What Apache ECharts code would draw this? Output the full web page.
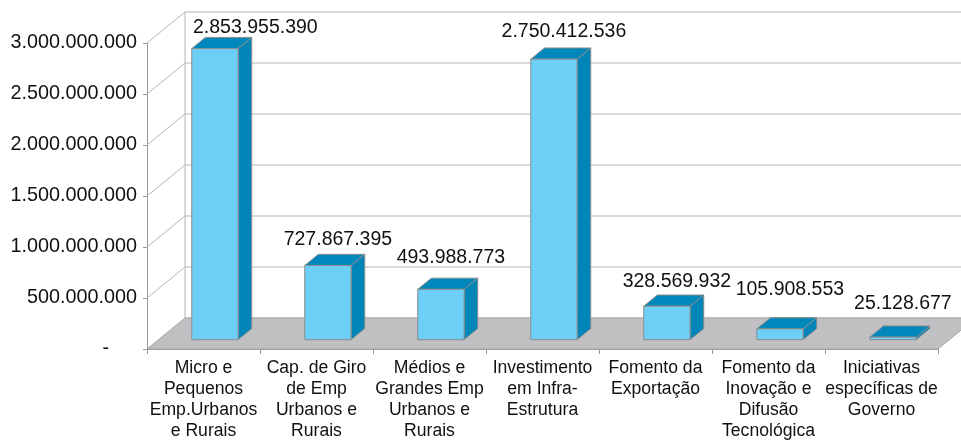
<!DOCTYPE html>
<html>
<head>
<meta charset="utf-8">
<script src="https://cdn.jsdelivr.net/npm/echarts@6/dist/echarts.min.js"></script>
<style>
html, body { margin: 0; padding: 0; background: #fff; }
#chart { width: 961px; height: 440px; }
</style>
</head>
<body>
<div id="chart"></div>
<script>
// dados do grafico
var categories = [
    'Micro e\nPequenos\nEmp.Urbanos\ne Rurais',
    'Cap. de Giro\nde Emp\nUrbanos e\nRurais',
    'Médios e\nGrandes Emp\nUrbanos e\nRurais',
    'Investimento\nem Infra-\nEstrutura',
    'Fomento da\nExportação',
    'Fomento da\nInovação e\nDifusão\nTecnológica',
    'Iniciativas\nespecíficas de\nGoverno'
];
var values = [2853955390, 727867395, 493988773, 2750412536, 328569932, 105908553, 25128677];
var yMin = 0;
var yMax = 3000000000;
var yStep = 500000000;

// estilo / perspectiva 3D
var DX = 38, DY = 31;          // deslocamento da profundidade total
var BAR_W = 0.41;              // largura da barra (fracao da categoria)
var D0 = 0.3, D1 = 0.66;       // profundidade da frente e do fundo da barra
var FONT = '"Liberation Sans", Arial, sans-serif';
var LABEL_SIZE = 19.5;
var labelNudge = [5, 0, -6, -1, 1.5, -13, -7];

function fmt(v) {
    return String(v).replace(/\B(?=(\d{3})+(?!\d))/g, '.');
}

var measureCtx = document.createElement('canvas').getContext('2d');
measureCtx.font = LABEL_SIZE + 'px ' + FONT;

function proj(api, c, v, d) {
    var p0 = api.coord([0, v]);
    var bw = api.size([1, 0])[0];
    return [p0[0] - bw / 2 + c * bw + d * DX, p0[1] - d * DY];
}

var ticks = [];
for (var t = yMin; t <= yMax; t += yStep) ticks.push(t);

var myChart = echarts.init(document.getElementById('chart'));
var option = {
    backgroundColor: '#fff',
    animation: false,
    grid: { left: 147, right: 23, top: 43, bottom: 91, outerBoundsMode: 'none' },
    xAxis: {
        type: 'category',
        data: categories,
        axisLine: { lineStyle: { color: '#9a9a9a', width: 1 } },
        axisTick: { show: true, length: 5, lineStyle: { color: '#9a9a9a' } },
        axisLabel: {
            interval: 0,
            margin: 9,
            color: '#111',
            fontFamily: FONT,
            fontSize: 17.6,
            lineHeight: 21
        },
        splitLine: { show: false }
    },
    yAxis: {
        type: 'value',
        min: yMin,
        max: yMax,
        interval: yStep,
        axisLine: { show: true, lineStyle: { color: '#9a9a9a', width: 1 } },
        axisTick: { show: true, length: 4, lineStyle: { color: '#9a9a9a' } },
        splitLine: { show: false },
        axisLabel: {
            margin: 10,
            color: '#111',
            fontFamily: FONT,
            fontSize: 19.8,
            formatter: function (v) {
                return v === 0 ? '{d|-}' : fmt(v);
            },
            rich: {
                d: { fontFamily: FONT, fontSize: 19.8, color: '#111', padding: [0, 28, 0, 0] }
            }
        }
    },
    series: [
        {
            // paredes, piso e linhas de grade
            type: 'custom',
            z: 1,
            silent: true,
            data: [[0, 0]],
            renderItem: function (params, api) {
                var n = categories.length;
                var kids = [];
                var gridStyle = { stroke: '#b4b4b4', lineWidth: 1, fill: null };
                ticks.forEach(function (v) {
                    var a = proj(api, 0, v, 1), b = proj(api, n, v, 1);
                    kids.push({ type: 'line', shape: { x1: a[0], y1: a[1], x2: b[0], y2: b[1] }, style: gridStyle });
                    if (v > 0) {
                        var f = proj(api, 0, v, 0);
                        kids.push({ type: 'line', shape: { x1: f[0], y1: f[1], x2: a[0], y2: a[1] }, style: gridStyle });
                    }
                });
                var w0 = proj(api, 0, yMin, 1), w1 = proj(api, 0, yMax, 1);
                kids.push({ type: 'line', shape: { x1: w0[0], y1: w0[1], x2: w1[0], y2: w1[1] }, style: gridStyle });
                kids.push({
                    type: 'polygon',
                    shape: { points: [proj(api, 0, 0, 0), proj(api, n, 0, 0), proj(api, n, 0, 1), proj(api, 0, 0, 1)] },
                    style: { fill: '#c0c0c3', stroke: '#a8a8a8', lineWidth: 1 }
                });
                return { type: 'group', children: kids };
            }
        },
        {
            // barras 3D
            type: 'custom',
            z: 3,
            data: values.map(function (v, i) { return [i, v]; }),
            renderItem: function (params, api) {
                var i = api.value(0), v = api.value(1);
                var c0 = i + 0.5 - BAR_W / 2, c1 = i + 0.5 + BAR_W / 2;
                var edge = { stroke: '#8c8c8c', lineWidth: 1 };
                var front = [proj(api, c0, 0, D0), proj(api, c1, 0, D0), proj(api, c1, v, D0), proj(api, c0, v, D0)];
                var side = [proj(api, c1, 0, D0), proj(api, c1, 0, D1), proj(api, c1, v, D1), proj(api, c1, v, D0)];
                var top = [proj(api, c0, v, D0), proj(api, c1, v, D0), proj(api, c1, v, D1), proj(api, c0, v, D1)];

                var txt = fmt(v);
                var tw = measureCtx.measureText(txt).width;
                var cx = proj(api, i + 0.5, v, D0)[0] + 10;
                var minLeft = proj(api, 0, 0, 1)[0] + 8;
                if (cx - tw / 2 < minLeft) cx = minLeft + tw / 2;
                var ty = proj(api, i + 0.5, v, D1)[1] - 15 + labelNudge[i];

                return {
                    type: 'group',
                    children: [
                        { type: 'polygon', shape: { points: side }, style: Object.assign({ fill: '#0085b9' }, edge) },
                        { type: 'polygon', shape: { points: top }, style: Object.assign({ fill: '#0087bb' }, edge) },
                        { type: 'polygon', shape: { points: front }, style: Object.assign({ fill: '#6dcff6' }, edge) },
                        {
                            type: 'text',
                            x: cx, y: ty,
                            style: {
                                text: txt,
                                fill: '#111',
                                fontFamily: FONT,
                                fontSize: LABEL_SIZE,
                                align: 'center',
                                verticalAlign: 'middle'
                            }
                        }
                    ]
                };
            }
        }
    ]
};
myChart.setOption(option);
</script>
</body>
</html>
